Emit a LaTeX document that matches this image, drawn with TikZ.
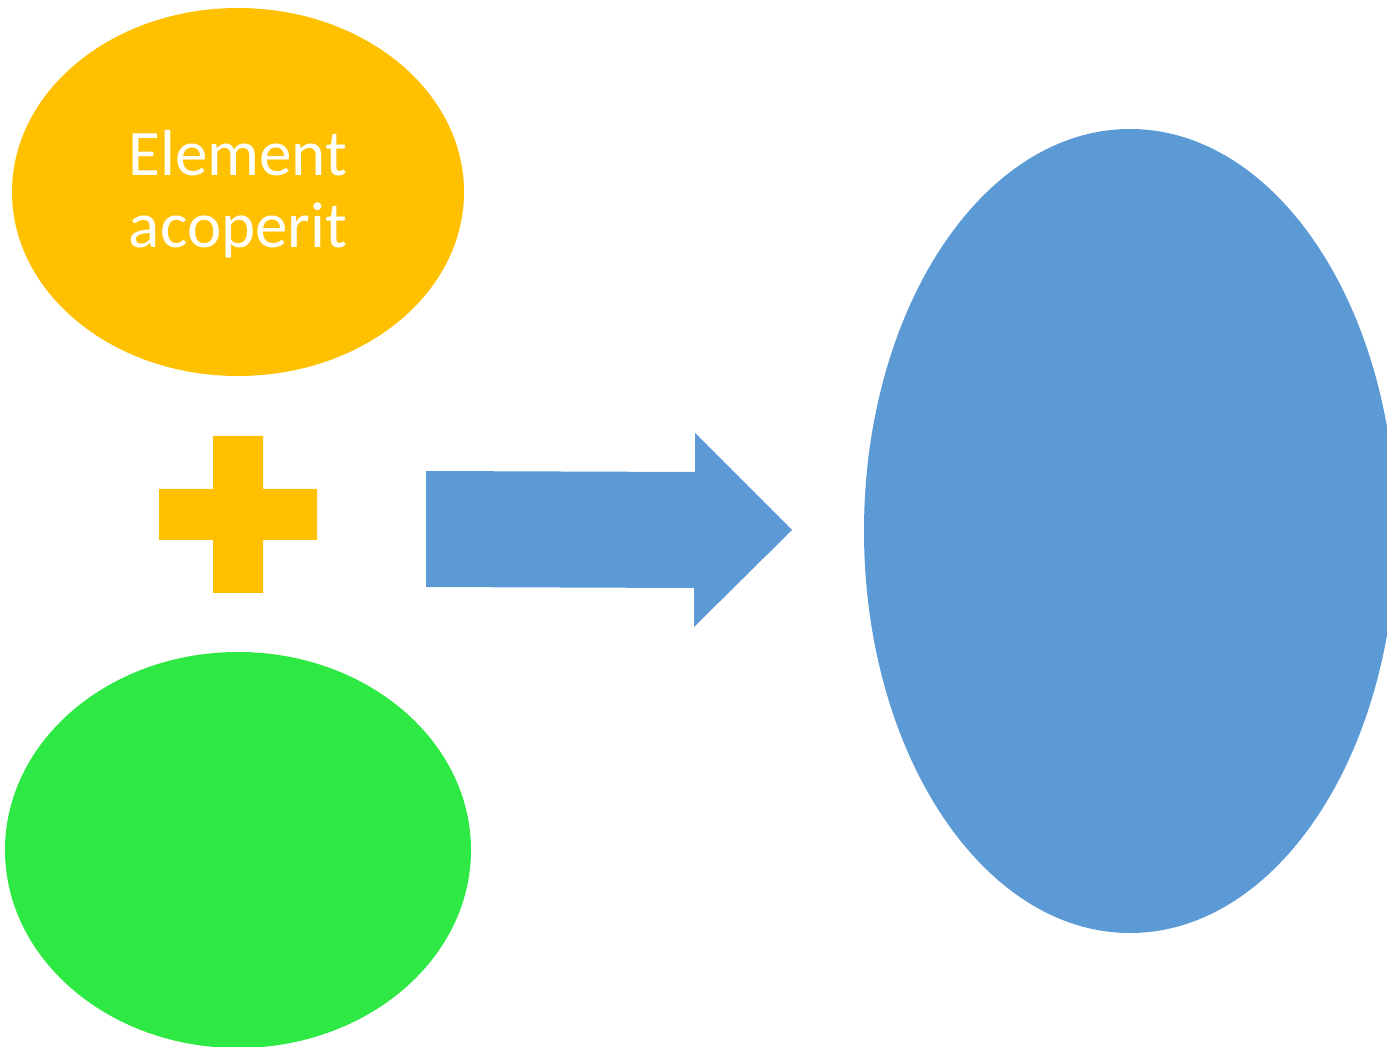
\documentclass[tikz,border=0pt]{standalone}
\usepackage{fontspec}
\setmainfont{Carlito}
\usetikzlibrary{shapes.geometric}
\definecolor{cyellow}{HTML}{FFC000}
\definecolor{cgreen}{HTML}{2EE843}
\definecolor{cblue}{HTML}{5B9AD5}
\begin{document}
\begin{tikzpicture}[x=0.02cm,y=-0.02cm,
  blob/.style={ellipse,inner sep=0pt,outer sep=0pt,draw=none}]
\useasboundingbox (0,0) rectangle (1387,1047);
\clip (0,0) rectangle (1387,1047);
% yellow ellipse with text
\node[blob,fill=cyellow,minimum width=452*0.02cm,minimum height=368*0.02cm] (top) at (238,192) {};
\node[text=white,align=center,font=\fontsize{37pt}{41pt}\selectfont] (lbl) at (238,194) {Element\\acoperit};
% plus sign
\fill[cyellow] (213,436) -- (263,436) -- (263,489) -- (317,489) -- (317,540) -- (263,540) -- (263,593) -- (213,593) -- (213,540) -- (159,540) -- (159,489) -- (213,489) -- cycle;
\coordinate (plus) at (238,514);
% green ellipse
\node[blob,fill=cgreen,minimum width=466*0.02cm,minimum height=396*0.02cm] (bottom) at (238,850) {};
% arrow
\fill[cblue] (426,471) -- (695,472) -- (695,433) -- (792,530) -- (694,627) -- (694,588) -- (426,587) -- cycle;
\coordinate (arrow) at (600,530);
% blue ellipse
\node[blob,fill=cblue,minimum width=532*0.02cm,minimum height=804*0.02cm] (result) at (1130,531) {};
\end{tikzpicture}
\end{document}
